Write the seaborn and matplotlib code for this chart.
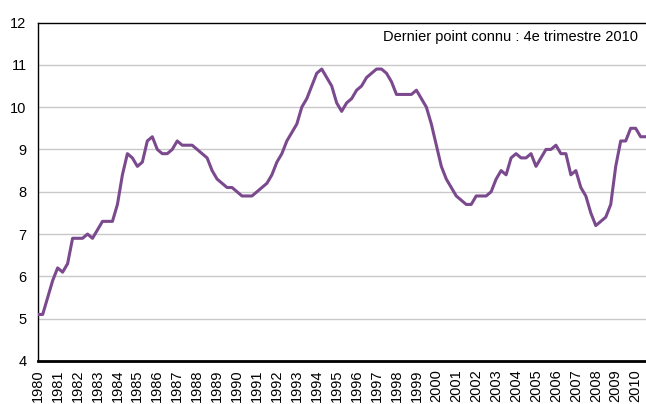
import matplotlib
matplotlib.use("Agg")
import matplotlib.pyplot as plt
import seaborn as sns
import pandas as pd
import numpy as np

# Quarterly unemployment rate (%), 1980 Q1 .. 2010 Q4
rate = [
    5.1, 5.1, 5.5, 5.9,   6.2, 6.1, 6.3, 6.9,   6.9, 6.9, 7.0, 6.9,   # 1980-1982
    7.1, 7.3, 7.3, 7.3,   7.7, 8.4, 8.9, 8.8,   8.6, 8.7, 9.2, 9.3,   # 1983-1985
    9.0, 8.9, 8.9, 9.0,   9.2, 9.1, 9.1, 9.1,   9.0, 8.9, 8.8, 8.5,   # 1986-1988
    8.3, 8.2, 8.1, 8.1,   8.0, 7.9, 7.9, 7.9,   8.0, 8.1, 8.2, 8.4,   # 1989-1991
    8.7, 8.9, 9.2, 9.4,   9.6, 10.0, 10.2, 10.5, 10.8, 10.9, 10.7, 10.5,  # 1992-1994
    10.1, 9.9, 10.1, 10.2, 10.4, 10.5, 10.7, 10.8, 10.9, 10.9, 10.8, 10.6,  # 1995-1997
    10.3, 10.3, 10.3, 10.3, 10.4, 10.2, 10.0, 9.6,  9.1, 8.6, 8.3, 8.1,   # 1998-2000
    7.9, 7.8, 7.7, 7.7,   7.9, 7.9, 7.9, 8.0,   8.3, 8.5, 8.4, 8.8,   # 2001-2003
    8.9, 8.8, 8.8, 8.9,   8.6, 8.8, 9.0, 9.0,   9.1, 8.9, 8.9, 8.4,   # 2004-2006
    8.5, 8.1, 7.9, 7.5,   7.2, 7.3, 7.4, 7.7,   8.6, 9.2, 9.2, 9.5,   # 2007-2009
    9.5, 9.3, 9.3, 9.3,                                               # 2010
]
years = list(range(1980, 2011))
year_labels = [str(y) for y in years]
y_ticks = [4, 5, 6, 7, 8, 9, 10, 11, 12]
note = "Dernier point connu : 4e trimestre 2010"

df = pd.DataFrame({"q": np.arange(len(rate)), "rate": rate})

sns.set_style("white")
plt.rcParams["font.family"] = ["Liberation Sans", "DejaVu Sans"]

W, H = 646, 404
fig = plt.figure(figsize=(W / 100, H / 100), dpi=100)
left_px, right_px = 37.7, 650.6
top_px, bot_px = 22.5, 361.0
ax = fig.add_axes([left_px / W, (H - bot_px) / H,
                   (right_px - left_px) / W, (bot_px - top_px) / H])

sns.lineplot(data=df, x="q", y="rate", ax=ax, color="#7B4A8E", linewidth=2.2,
             zorder=3)

ax.set_xlim(0, len(rate) - 1)
ax.set_ylim(4, 12)
ax.set_yticks(y_ticks)
ax.set_yticklabels([str(v) for v in y_ticks])
ax.set_xticks([4 * i for i in range(len(years))])
ax.set_xticklabels(year_labels, rotation=90)
ax.set_xlabel("")
ax.set_ylabel("")

for v in y_ticks[1:-1]:
    ax.axhline(v, color="#C8C8C8", linewidth=1.0, zorder=1)

ax.tick_params(axis="y", direction="inout", length=8, width=1.0,
               labelsize=10.5, pad=4, colors="black")
ax.tick_params(axis="x", direction="in", length=4, width=1.0,
               labelsize=10.5, pad=6, colors="black")

for s in ["left", "top", "right"]:
    ax.spines[s].set_color("black")
    ax.spines[s].set_linewidth(1.0)
ax.spines["bottom"].set_color("black")
ax.spines["bottom"].set_linewidth(2.0)

ax.text(120.4, 11.66, note, ha="right", va="center", fontsize=10.5,
        color="black")

fig.savefig("out.png", dpi=100)
